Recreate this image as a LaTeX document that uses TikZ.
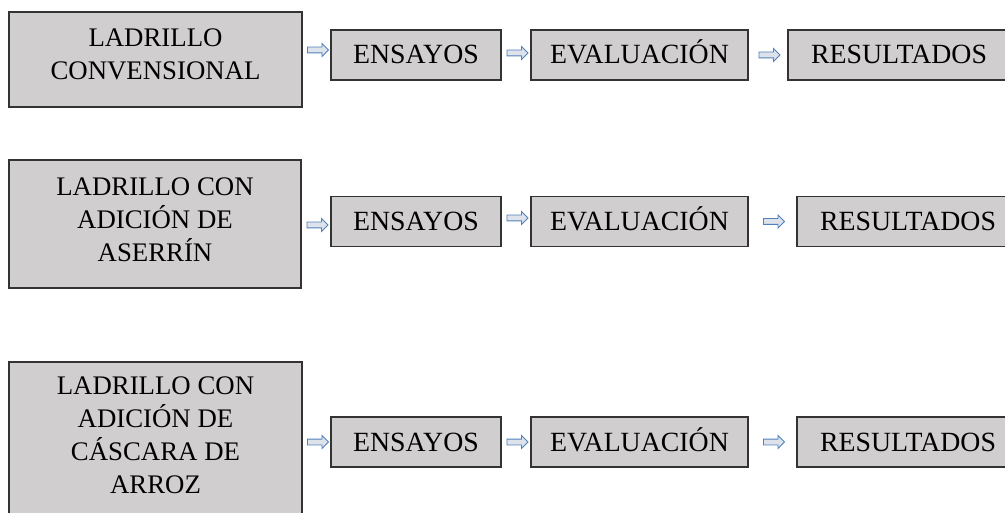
\documentclass[tikz,border=0pt]{standalone}
\usepackage{fontspec}
\setmainfont{Liberation Serif}
\usetikzlibrary{shapes.arrows}
\definecolor{cajagris}{RGB}{208,206,206}
\definecolor{flechaazul}{RGB}{79,129,189}
\definecolor{flecharelleno}{RGB}{222,226,234}

\begin{document}
\begin{tikzpicture}[x=1pt,y=1pt,yscale=-1,
  caja/.style={draw=black!80, line width=1.3pt, fill=cajagris, inner sep=0pt},
  texto/.style={align=center, font=\fontsize{26.8}{33}\selectfont, inner sep=0pt},
  paso/.style={caja, minimum height=50pt, text height=18pt, text depth=0pt, font=\fontsize{27.8}{32}\selectfont},
  flecha/.style={single arrow, draw=flechaazul, fill=flecharelleno, line width=0.9pt, minimum height=21pt, minimum width=0pt, text height=5pt, text depth=0pt, single arrow head extend=3.5pt, inner sep=0pt}]
\useasboundingbox (0,0) rectangle (1005,513);

%Row 1: conventional brick
\node[caja, minimum width=293pt, minimum height=95pt] (lad1) at (155.5,59.5) {};
\node[texto] (lad1t) at (155.5,54) {LADRILLO\\CONVENSIONAL};
\node[paso, minimum width=170pt] (ens1) at (416,55) {ENSAYOS};
\node[paso, minimum width=217pt] (eva1) at (639.5,55) {EVALUACIÓN};
\node[paso, minimum width=222pt] (res1) at (899,55) {RESULTADOS};

%Row 2: sawdust
\node[caja, minimum width=292pt, minimum height=128pt] (lad2) at (155,224) {};
\node[texto] (lad2t) at (155,219.5) {LADRILLO CON\\ADICIÓN DE\\ASERRÍN};
\node[paso, minimum width=170pt] (ens2) at (416,221.5) {ENSAYOS};
\node[paso, minimum width=217pt] (eva2) at (639.5,221.5) {EVALUACIÓN};
\node[paso, minimum width=222pt] (res2) at (908,221.5) {RESULTADOS};

%Row 3: rice husk
\node[caja, minimum width=293pt, minimum height=168pt] (lad3) at (155.5,446) {};
\node[texto] (lad3t) at (155.5,435) {LADRILLO CON\\ADICIÓN DE\\CÁSCARA DE\\ARROZ};
\node[paso, minimum width=170pt] (ens3) at (416,442) {ENSAYOS};
\node[paso, minimum width=217pt] (eva3) at (639.5,442) {EVALUACIÓN};
\node[paso, minimum width=222pt] (res3) at (908,442) {RESULTADOS};

%Arrows
\path (lad1.east |- ens1.west) -- (ens1.west) node[midway, flecha, yshift=5pt] (f11) {};
\path (ens1.east) -- (eva1.west) node[midway, flecha, yshift=2pt] (f12) {};
\path (eva1.east) -- (res1.west) node[midway, flecha] (f13) {};
\path (lad2.east |- ens2.west) -- (ens2.west) node[midway, flecha, yshift=-3.5pt] (f21) {};
\path (ens2.east) -- (eva2.west) node[midway, flecha, yshift=3.5pt] (f22) {};
\path (eva2.east) -- (res2.west) node[midway, flecha] (f23) {};
\path (lad3.east |- ens3.west) -- (ens3.west) node[midway, flecha] (f31) {};
\path (ens3.east) -- (eva3.west) node[midway, flecha] (f32) {};
\path (eva3.east) -- (res3.west) node[midway, flecha] (f33) {};

\end{tikzpicture}
\end{document}
